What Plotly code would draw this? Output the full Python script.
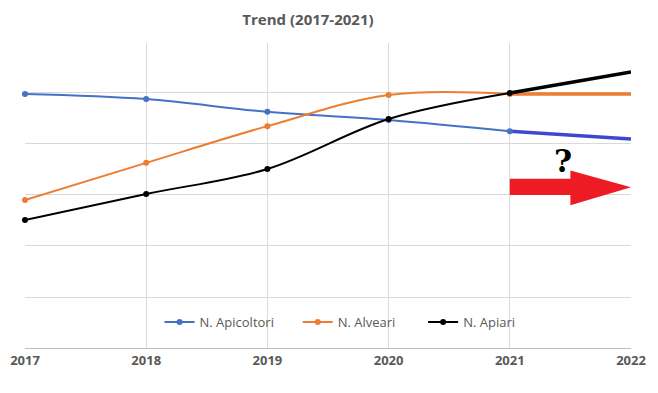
import plotly.graph_objects as go

years = [2017, 2018, 2019, 2020, 2021]
proj_years = [2021, 2022]
x_ticks = [2017, 2018, 2019, 2020, 2021, 2022]

apicoltori = [4.98, 4.88, 4.63, 4.47, 4.25]
alveari = [2.90, 3.63, 4.35, 4.96, 4.98]
apiari = [2.51, 3.02, 3.51, 4.49, 5.00]

apicoltori_proj = [4.25, 4.10]
alveari_proj = [4.98, 4.98]
apiari_proj = [5.00, 5.41]

grid_vals = [1, 2, 3, 4, 5]

BLUE = "#4472C4"
ORANGE = "#ED7D31"
BLACK = "#000000"
TXT = "#595959"

fig = go.Figure()

# projections (thick, no markers)
fig.add_trace(go.Scatter(x=proj_years, y=apicoltori_proj, mode="lines",
                         line=dict(color="#3F48CC", width=3.5), showlegend=False, hoverinfo="skip"))
fig.add_trace(go.Scatter(x=proj_years, y=alveari_proj, mode="lines",
                         line=dict(color=ORANGE, width=3.5), showlegend=False, hoverinfo="skip"))
fig.add_trace(go.Scatter(x=proj_years, y=apiari_proj, mode="lines",
                         line=dict(color=BLACK, width=3.5), showlegend=False, hoverinfo="skip"))

fig.add_trace(go.Scatter(x=years, y=apicoltori, name="N. Apicoltori", mode="lines+markers",
                         line=dict(color=BLUE, width=2, shape="spline", smoothing=1),
                         marker=dict(size=6, color=BLUE), cliponaxis=False, legend="legend"))
fig.add_trace(go.Scatter(x=years, y=alveari, name="N. Alveari", mode="lines+markers",
                         line=dict(color=ORANGE, width=2, shape="spline", smoothing=1),
                         marker=dict(size=6, color=ORANGE), cliponaxis=False, legend="legend2"))
fig.add_trace(go.Scatter(x=years, y=apiari, name="N. Apiari", mode="lines+markers",
                         line=dict(color=BLACK, width=2, shape="spline", smoothing=1),
                         marker=dict(size=6, color=BLACK), cliponaxis=False, legend="legend3"))

# red arrow (decoration)
fig.add_shape(type="path", xref="x", yref="y",
              path="M 2021,3.0 L 2021.5,3.0 L 2021.5,2.80 L 2022,3.15 L 2021.5,3.48 L 2021.5,3.32 L 2021,3.32 Z",
              fillcolor="#ED1C24", line=dict(width=0), layer="above")
fig.add_annotation(x=2021.44, y=3.67, xref="x", yref="y", text="<b>?</b>", showarrow=False,
                   font=dict(family="DejaVu Serif", size=31, color="#000000"))

leg_common = dict(orientation="h", y=0.085, yanchor="middle", xanchor="left",
                  bgcolor="rgba(0,0,0,0)", font=dict(family="Open Sans", size=13, color=TXT),
                  itemwidth=30)

# The page body has an 8px margin; compensate so the plot sits where the reference has it
fig.update_layout(
    width=650, height=385,
    margin=dict(l=17, r=27, t=35, b=45, autoexpand=False),
    paper_bgcolor="white", plot_bgcolor="white",
    title=dict(text="<b>Trend (2017-2021)</b>", x=0.4615, xanchor="center", y=0.97, yanchor="middle",
               font=dict(family="Open Sans", size=15, color=TXT)),
    legend=dict(x=0.222, **leg_common),
    legend2=dict(x=0.450, **leg_common),
    legend3=dict(x=0.657, **leg_common),
    showlegend=True,
    hovermode=False,
)
fig.update_xaxes(range=[2017, 2022], tickvals=x_ticks, ticktext=[f"<b>{v}</b>" for v in x_ticks],
                 showgrid=True, gridcolor="#D9D9D9", gridwidth=1, zeroline=False,
                 showline=True, linecolor="#BFBFBF", linewidth=1, ticks="", automargin=False,
                 tickfont=dict(family="Open Sans", size=13, color=TXT))
fig.update_yaxes(range=[0, 5.98], tickvals=grid_vals, showticklabels=False, automargin=False,
                 showgrid=True, gridcolor="#D9D9D9", gridwidth=1, zeroline=False, showline=False)

fig.write_html("out.html")
